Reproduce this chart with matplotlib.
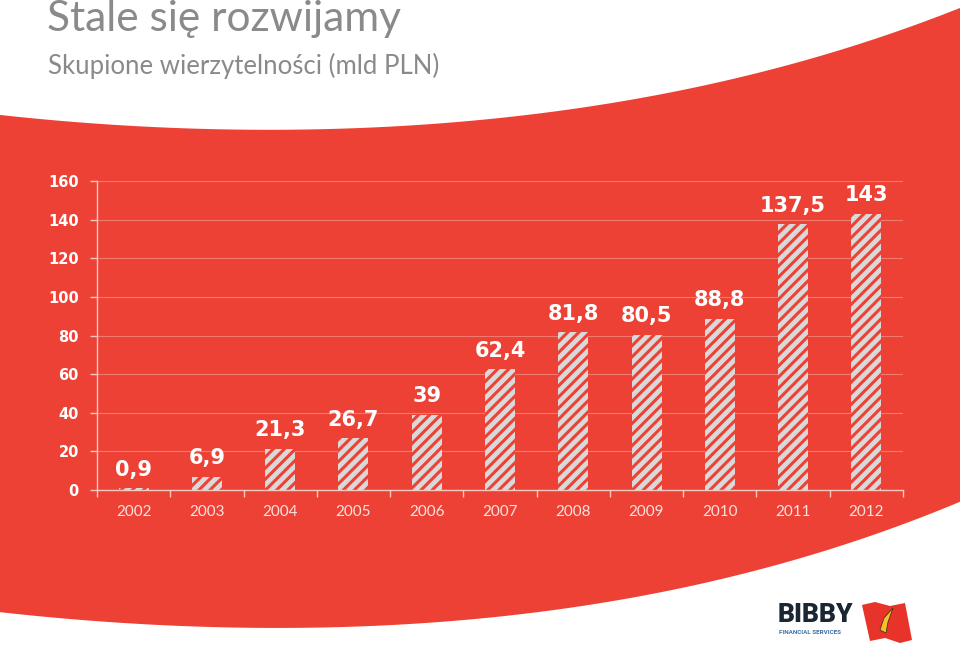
import numpy as np
import matplotlib.pyplot as plt
from matplotlib.patches import Polygon

# dane
years = ['2002', '2003', '2004', '2005', '2006', '2007', '2008', '2009', '2010', '2011', '2012']
values = [0.9, 6.9, 21.3, 26.7, 39, 62.4, 81.8, 80.5, 88.8, 137.5, 143]
labels = ['0,9', '6,9', '21,3', '26,7', '39', '62,4', '81,8', '80,5', '88,8', '137,5', '143']
yticks = [0, 20, 40, 60, 80, 100, 120, 140, 160]

RED = '#ED4136'
GREY = '#8a8a8a'
LIGHT = '#f3c9c2'

W, H = 960, 645
plt.rcParams['hatch.linewidth'] = 2.2
plt.rcParams['font.family'] = ['Lato', 'DejaVu Sans']

fig = plt.figure(figsize=(W / 100, H / 100), dpi=100)
fig.patch.set_facecolor('white')


def px(x, y):
    # piksele -> wspolrzedne figury
    return x / W, 1 - y / H


# czerwone tlo z krzywymi krawedziami
top_pts = np.array([(0, 115), (120, 125), (250, 130), (380, 127), (480, 120),
                    (640, 98), (720, 82), (800, 62), (880, 37), (960, 8)])
bot_pts = np.array([(0, 612), (120, 623), (240, 628), (360, 626), (480, 618),
                    (600, 603), (700, 585), (800, 560), (860, 537), (920, 517), (960, 503)])
xs = np.linspace(0, W, 300)
top = np.polyval(np.polyfit(top_pts[:, 0], top_pts[:, 1], 4), xs)
bot = np.polyval(np.polyfit(bot_pts[:, 0], bot_pts[:, 1], 4), xs)
outline = [px(x, y) for x, y in zip(xs, top)] + [px(x, y) for x, y in zip(xs[::-1], bot[::-1])]
fig.add_artist(Polygon(outline, closed=True, facecolor=RED, edgecolor='none',
                       transform=fig.transFigure, zorder=0))

# tytul
fig.text(47 / W, 1 - 19 / H, 'Stale się rozwijamy', fontsize=30.5, color=GREY,
         ha='left', va='center')
fig.text(48 / W, 1 - 66 / H, 'Skupione wierzytelności (mld PLN)', fontsize=18.5, color=GREY,
         ha='left', va='center')

# wykres
ax = fig.add_axes([97 / W, 1 - 490 / H, 806 / W, 309 / H])
ax.set_facecolor('none')
x = np.arange(len(years))
ax.bar(x, values, width=0.41, color='#d9d9d9', edgecolor=RED, linewidth=0,
       hatch='///', zorder=3)

for xi, v, lab in zip(x, values, labels):
    ax.annotate(lab, (xi, v), xytext=(0, 9), textcoords='offset points',
                ha='center', va='baseline', color='white', fontsize=15,
                fontweight='bold', family='DejaVu Sans')

ax.set_xlim(-0.5, len(years) - 0.5)
ax.set_ylim(0, 160)
ax.set_yticks(yticks)
ax.set_yticklabels([str(t) for t in yticks], color='white', fontsize=10.5,
                   fontweight='bold', family='DejaVu Sans')
ax.set_xticks(x)
ax.set_xticklabels(years, color='#fbe3df', fontsize=11)
ax.set_xticks(np.arange(len(years) + 1) - 0.5, minor=True)
ax.tick_params(axis='x', which='major', length=0, pad=11)
ax.tick_params(axis='x', which='minor', length=5, color=LIGHT, width=1, direction='out')
ax.tick_params(axis='y', length=5, color=LIGHT, width=1, pad=8)

ax.grid(axis='y', color='#f27a6f', linewidth=0.8, zorder=1)
ax.set_axisbelow(True)
for side in ['top', 'right']:
    ax.spines[side].set_visible(False)
for side in ['left', 'bottom']:
    ax.spines[side].set_color(LIGHT)
    ax.spines[side].set_linewidth(1)
    ax.spines[side].set_zorder(4)

# logo
fig.text(778 / W, 1 - 615 / H, 'BIBBY', fontsize=19, fontweight='heavy', color='#1b2633',
         ha='left', va='center', family=['Roboto', 'DejaVu Sans'])
fig.text(779 / W, 1 - 633 / H, 'FINANCIAL SERVICES', fontsize=4.5, color='#3a6ea5',
         ha='left', va='center', fontweight='bold', family=['Roboto', 'DejaVu Sans'])
flag = [(862, 605), (875, 602), (890, 606), (905, 603), (912, 640), (900, 643), (885, 638), (870, 641)]
fig.add_artist(Polygon([px(a, b) for a, b in flag], closed=True, facecolor='#e8332a',
                       edgecolor='none', transform=fig.transFigure))
fig.add_artist(Polygon([px(a, b) for a, b in [(880, 630), (884, 618), (893, 608), (888, 622), (886, 633)]],
                       closed=True, facecolor='#f2c12e', edgecolor='#3a2a10', linewidth=0.5,
                       transform=fig.transFigure))

fig.savefig('out.png', dpi=100, facecolor='white')
